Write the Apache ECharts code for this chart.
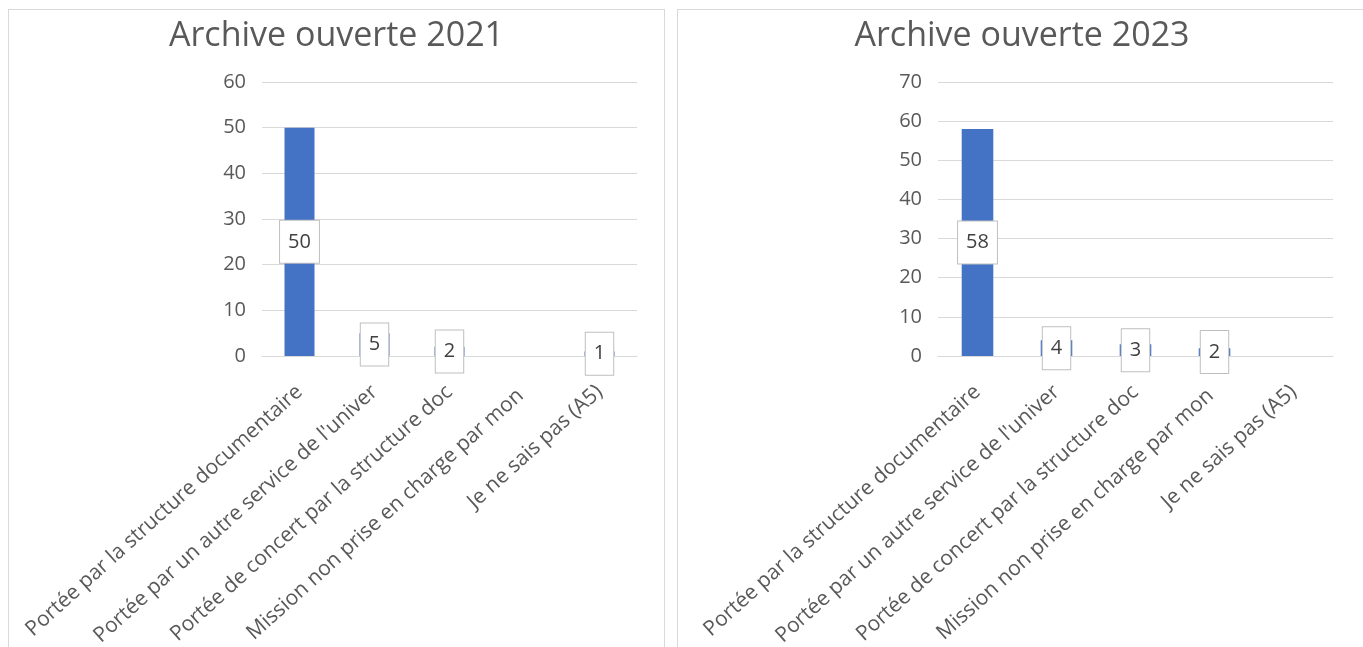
<!DOCTYPE html>
<html>
<head>
<meta charset="utf-8">
<script src="https://cdn.jsdelivr.net/npm/echarts@6/dist/echarts.min.js"></script>
<style>
 body { margin: 0; background: #fff; width: 1363px; height: 647px; overflow: hidden; position: relative; }
 .panel { position: absolute; top: 9px; height: 650px; border: 1px solid #d9d9d9; box-sizing: border-box; }
 #chart2021 { left: 8px; width: 657px; }
 #chart2023 { left: 677px; width: 690px; }
</style>
</head>
<body>
<div class="panel" id="chart2021"></div>
<div class="panel" id="chart2023"></div>
<script>
const categories = [
 'Portée par la structure documentaire',
 "Portée par un autre service de l'univer",
 'Portée de concert par la structure doc',
 'Mission non prise en charge par mon ',
 'Je ne sais pas (A5)'
]
const values2021 = [50, 5, 2, 0, 1]
const values2023 = [58, 4, 3, 2, 0]
const ticks2021 = { max: 60, interval: 10 }
const ticks2023 = { max: 70, interval: 10 }

const font = '"Open Sans", "Liberation Sans", sans-serif'

const setOption = (title, values, ticks, grid) => {
 return {
  animation: false,
  title: {
   text: title,
   left: 'center',
   top: 4,
   textStyle: { fontFamily: font, fontSize: 34, fontWeight: 'normal', color: '#595959' }
  },
  grid: grid,
  xAxis: {
   type: 'category',
   data: categories,
   axisLine: { lineStyle: { color: '#d9d9d9' } },
   axisTick: { show: false },
   axisLabel: {
    rotate: 42,
    interval: 0,
    margin: 33,
    fontFamily: font,
    fontSize: 21,
    color: '#595959'
   }
  },
  yAxis: {
   type: 'value',
   min: 0,
   max: ticks.max,
   interval: ticks.interval,
   axisLine: { show: false },
   axisTick: { show: false },
   splitLine: { lineStyle: { color: '#d9d9d9', width: 1 } },
   axisLabel: { margin: 16, fontFamily: font, fontSize: 20, color: '#595959' }
  },
  series: [
   {
    type: 'bar',
    barWidth: '40%',
    itemStyle: { color: '#4472c4' },
    label: {
     show: true,
     position: 'inside',
     fontFamily: font,
     fontSize: 20,
     lineHeight: 20,
     color: '#404040',
     backgroundColor: '#fff',
     borderColor: '#bfbfbf',
     borderWidth: 1,
     padding: [11, 8]
    },
    data: values.map(v => v === 0 ? { value: v, label: { show: false } } : v)
   }
  ]
 }
}

const c1 = echarts.init(document.getElementById('chart2021'))
c1.setOption(setOption('Archive ouverte 2021', values2021, ticks2021, { left: 253, width: 375, top: 72, height: 274 }))
const c2 = echarts.init(document.getElementById('chart2023'))
c2.setOption(setOption('Archive ouverte 2023', values2023, ticks2023, { left: 260, width: 395, top: 72, height: 274 }))
</script>
</body>
</html>
